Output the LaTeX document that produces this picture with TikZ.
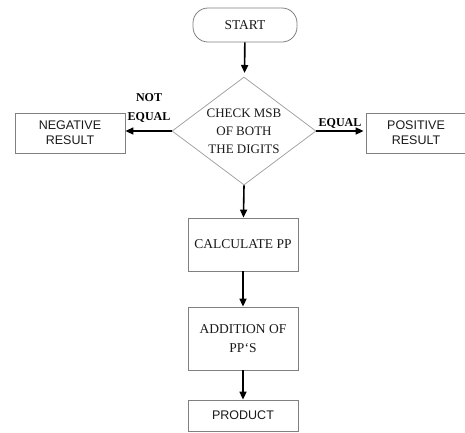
\documentclass[tikz,border=0pt]{standalone}
\usepackage{fontspec}
\setmainfont{Liberation Serif}
\setsansfont{Liberation Sans}
\usetikzlibrary{arrows.meta, positioning, shapes.geometric}

\begin{document}
\begin{tikzpicture}[x=1pt, y=-1pt,
            box/.style={draw=black!50, line width=0.8pt, minimum width=110pt, align=center, text=black!90, font=\fontsize{13.5}{19}\selectfont},
            sbox/.style={box, font=\sffamily\fontsize{12.5}{15}\selectfont},
            decide/.style={diamond, draw=black!35, line width=0.8pt, aspect=1.33, inner sep=0pt, minimum width=144pt, minimum height=108pt, align=center, text=black!90, font=\fontsize{13}{18}\selectfont},
            lbl/.style={font=\bfseries\fontsize{12}{19}\selectfont, align=center},
            arrow/.style={-{Triangle[length=8pt, width=7pt]}, line width=1.6pt}
        ]
        \useasboundingbox (0,0) rectangle (465,432);

        % --- start and decision ---
        \node[box, rounded corners=15pt, minimum width=104pt, minimum height=34pt] (start) at (245, 25) {START};
        \node[decide] (check) at (244, 131) {CHECK MSB\\OF BOTH\\THE DIGITS};
        \draw[arrow, shorten >=4pt] (start)--(check);

        % --- sign of the result ---
        \node[sbox, minimum height=40pt] (neg) at (70, 133) {NEGATIVE\\RESULT};
        \node[sbox, minimum width=100pt, minimum height=40pt] (pos) at (416, 133) {POSITIVE\\RESULT};
        \draw[arrow] (check.west)--(check.west -| neg.east);
        \draw[arrow, shorten >=2pt] (check.east)--(check.east -| pos.west);
        \node[lbl] at (149, 108) {NOT\\EQUAL};
        \node[lbl] at (340, 123) {EQUAL};

        % --- partial products ---
        \node[box, minimum height=53pt] (calc) at (243, 244.5) {CALCULATE PP};
        \node[box, minimum height=63pt] (add) at (243, 338.5) {ADDITION OF\\PP‘S};
        \node[sbox, minimum height=31pt] (prod) at (243, 415.5) {PRODUCT};
        \draw[arrow] (check.south)--(calc);
        \draw[arrow] (calc)--(add);
        \draw[arrow] (add)--(prod);
        \end{tikzpicture}
\end{document}
